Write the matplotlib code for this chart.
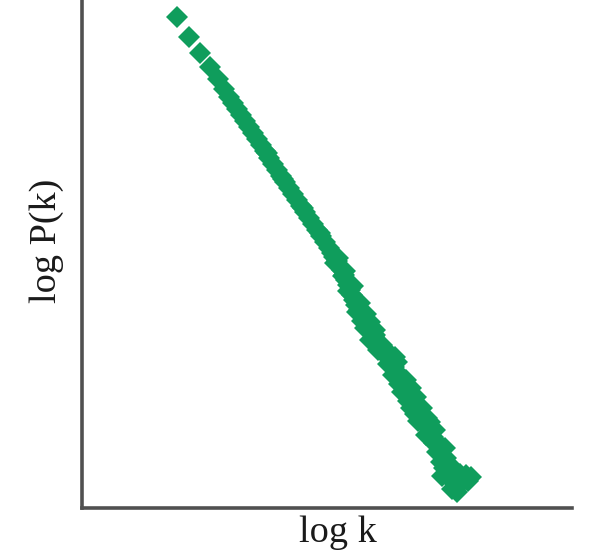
import matplotlib
matplotlib.use("Agg")
import matplotlib.pyplot as plt

# log k and log P(k) values (arbitrary log units)
log_k_head = [0.95, 1.07, 1.18, 1.28, 1.36, 1.42, 1.47, 1.51, 1.55]
log_p_head = [-0.17, -0.37, -0.53, -0.67, -0.79, -0.89, -0.97, -1.03, -1.09]

log_k_mid = [1.59, 1.63, 1.67, 1.71, 1.75, 1.79, 1.83, 1.87, 1.91, 1.95, 1.99,
             2.03, 2.07, 2.11, 2.15, 2.19, 2.23, 2.27, 2.31, 2.35, 2.39, 2.43, 2.47,
             1.85, 2.01, 2.21, 2.38]
log_p_mid = [-1.15, -1.21, -1.27, -1.33, -1.39, -1.45, -1.51, -1.58, -1.64, -1.70, -1.76,
             -1.82, -1.88, -1.94, -2.00, -2.06, -2.12, -2.18, -2.24, -2.30, -2.36, -2.42, -2.48,
             -1.53, -1.79, -2.08, -2.33]

log_k_tail = [2.50, 2.52, 2.55, 2.57, 2.60, 2.62, 2.64, 2.66, 2.68, 2.70, 2.72,
              2.56, 2.61, 2.66, 2.53, 2.63, 2.71,
              2.74, 2.77, 2.79, 2.82, 2.85, 2.87, 2.89,
              2.78, 2.80, 2.93, 2.84, 2.92, 2.75, 2.83, 2.88,
              2.92, 2.95, 2.98, 3.01, 3.04, 3.07, 3.10, 3.12,
              2.88, 2.96, 3.00, 3.06, 3.15, 3.09, 2.93, 3.03, 3.13,
              3.14, 3.17, 3.20, 3.23, 3.26, 3.28, 3.30,
              3.11, 3.24, 3.20, 3.34, 3.26, 3.17, 3.29,
              3.33, 3.36, 3.39, 3.42, 3.45, 3.47, 3.49,
              3.29, 3.40, 3.36, 3.48, 3.44, 3.53, 3.33, 3.45,
              3.51, 3.54, 3.56, 3.58, 3.60, 3.55, 3.63, 3.52,
              3.59, 3.62, 3.60, 3.66, 3.72, 3.78, 3.84, 3.89, 3.86, 3.80, 3.73, 3.70, 3.75,
              3.64, 3.69, 3.76]
log_p_tail = [-2.53, -2.57, -2.61, -2.66, -2.70, -2.75, -2.80, -2.85, -2.90, -2.95, -3.00,
              -2.58, -2.76, -2.91, -2.63, -2.71, -2.86,
              -3.05, -3.10, -3.15, -3.20, -3.25, -3.29, -3.33,
              -3.03, -3.21, -3.30, -3.14, -3.36, -3.12, -3.28, -3.22,
              -3.38, -3.42, -3.47, -3.51, -3.55, -3.59, -3.63, -3.67,
              -3.40, -3.50, -3.45, -3.64, -3.62, -3.56, -3.35, -3.49, -3.57,
              -3.71, -3.76, -3.81, -3.86, -3.91, -3.96, -4.00,
              -3.75, -3.80, -3.92, -3.97, -4.01, -3.84, -3.88,
              -4.05, -4.10, -4.15, -4.20, -4.25, -4.29, -4.33,
              -4.08, -4.08, -4.21, -4.22, -4.35, -4.30, -4.14, -4.18,
              -4.37, -4.41, -4.45, -4.50, -4.55, -4.52, -4.48, -4.43,
              -4.62, -4.68, -4.76, -4.74, -4.72, -4.74, -4.75, -4.77, -4.81, -4.82, -4.84, -4.89, -4.92,
              -4.58, -4.66, -4.86]

x_label = "log k"
y_label = "log P(k)"

log_k = log_k_head + log_k_mid + log_k_tail
log_p = log_p_head + log_p_mid + log_p_tail

fig = plt.figure(figsize=(5.95, 5.54), dpi=100)
ax = fig.add_axes([82 / 595, 46 / 554, 490 / 595, 508 / 554])
ax.plot(log_k, log_p, linestyle="none", marker="D", markersize=10.8,
        markeredgewidth=0, color="#0f9d5c", clip_on=False)
ax.set_xlim(0, 4.90)
ax.set_ylim(-5.08, 0)
ax.set_xticks([])
ax.set_yticks([])
for s in ("top", "right"):
    ax.spines[s].set_visible(False)
for s in ("left", "bottom"):
    ax.spines[s].set_linewidth(2.6)
    ax.spines[s].set_color("#505050")

fig.text(338 / 595, (554 - 542) / 554, x_label, ha="center", va="baseline",
         fontsize=27.5, family="Liberation Serif", color="#1a1a1a")
fig.text(47 / 595, (554 - 241) / 554, y_label, ha="center", va="center", rotation=90,
         fontsize=27.5, family="Liberation Serif", color="#1a1a1a")

fig.savefig("out.png", dpi=100)
